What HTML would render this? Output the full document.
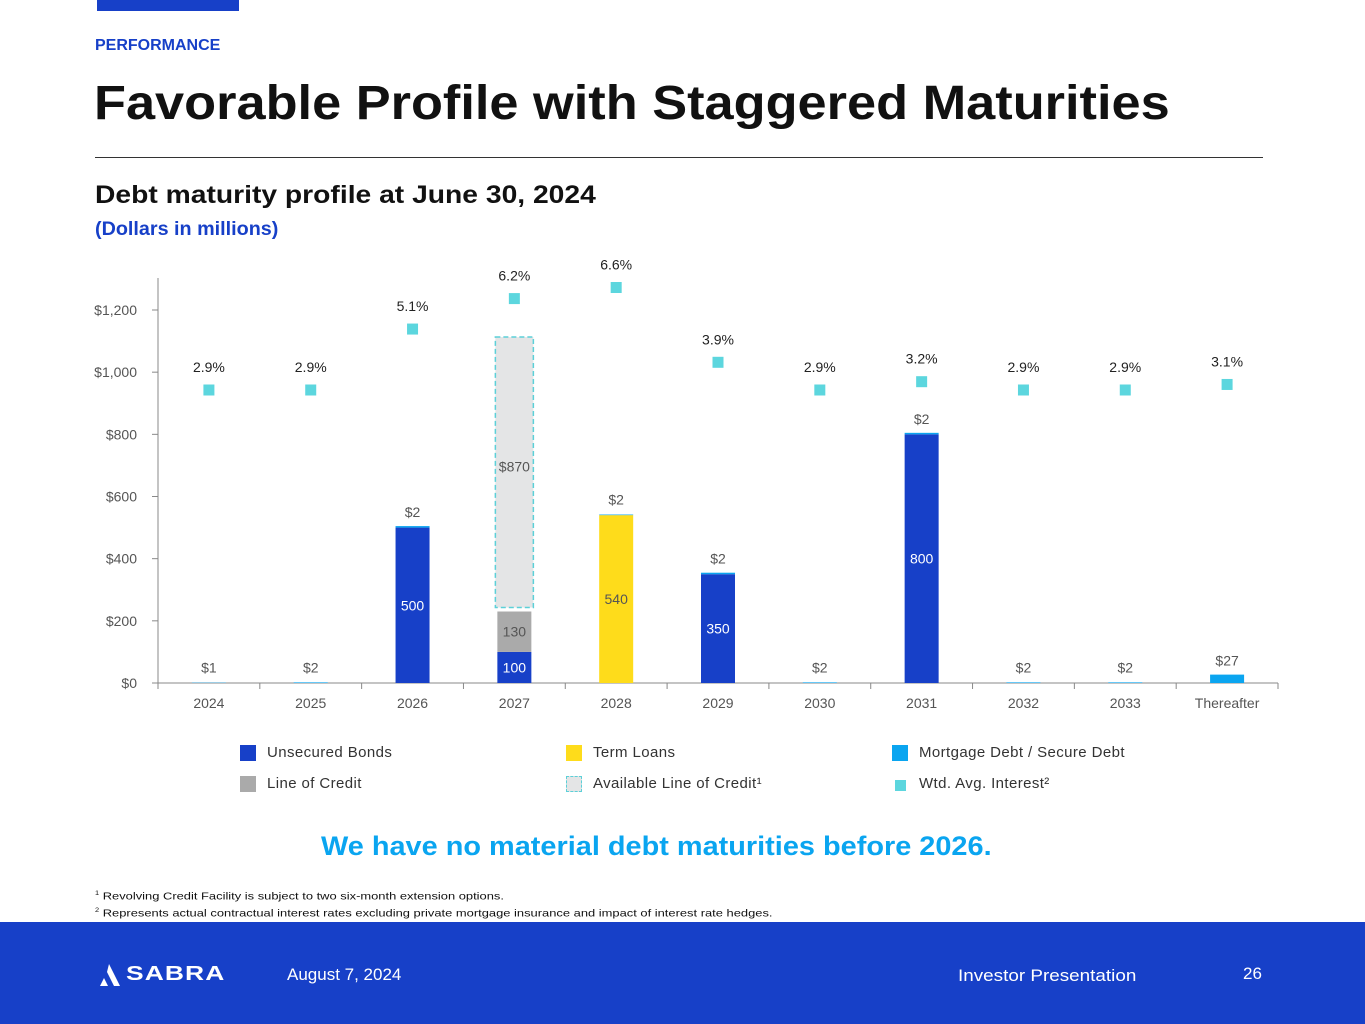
<!DOCTYPE html>
<html><head><meta charset="utf-8">
<style>
*{margin:0;padding:0;box-sizing:border-box}
body{width:1365px;height:1024px;background:#fff;font-family:"Liberation Sans",sans-serif;position:relative;overflow:hidden;color:#111}
.abs{position:absolute}
.sx{transform-origin:0 0;white-space:nowrap}
.lg{position:absolute;font-size:15px;color:#333;letter-spacing:0.4px}
.lg i{position:absolute;left:-27px;top:1px;width:16px;height:16px}
</style></head><body>
<div class="abs" style="left:97px;top:0;width:142px;height:11px;background:#1740c8"></div>
<div class="abs" style="left:95px;top:37px;font-size:16px;font-weight:bold;color:#1740c8">PERFORMANCE</div>
<div class="abs sx" style="left:94px;top:76px;font-size:48px;font-weight:bold;transform:scaleX(1.09)">Favorable Profile with Staggered Maturities</div>
<div class="abs" style="left:95px;top:157px;width:1168px;height:1px;background:#333"></div>
<div class="abs sx" style="left:95px;top:181px;font-size:25px;font-weight:bold;transform:scaleX(1.13)">Debt maturity profile at June 30, 2024</div>
<div class="abs sx" style="left:95px;top:219px;font-size:19px;font-weight:bold;color:#1740c8;transform:scaleX(1.04)">(Dollars in millions)</div>

<svg class="abs" style="left:0;top:0" width="1365" height="720" id="chart"></svg>

<div class="lg" style="left:267px;top:744px"><i style="background:#1740c8"></i>Unsecured Bonds</div>
<div class="lg" style="left:267px;top:775px"><i style="background:#aaa"></i>Line of Credit</div>
<div class="lg" style="left:593px;top:744px"><i style="background:#fedc1b"></i>Term Loans</div>
<div class="lg" style="left:593px;top:775px"><i style="background:#e4e5e6;border:1.5px dashed #5cd0d8"></i>Available Line of Credit¹</div>
<div class="lg" style="left:919px;top:744px"><i style="background:#0aa5f0"></i>Mortgage Debt / Secure Debt</div>
<div class="lg" style="left:919px;top:775px"><i style="background:#5cd6de;width:11px;height:11px;left:-24px;top:5px"></i>Wtd. Avg. Interest²</div>

<div class="abs sx" style="left:321px;top:831px;font-size:27px;font-weight:bold;color:#0aa5f0;transform:scaleX(1.07)">We have no material debt maturities before 2026.</div>
<div class="abs sx" style="left:95px;top:887px;font-size:10.5px;line-height:14px;color:#111;transform:scaleX(1.23)"><sup style="font-size:6px">1</sup> Revolving Credit Facility is subject to two six-month extension options.<br><sup style="font-size:6px">2</sup> Represents actual contractual interest rates excluding private mortgage insurance and impact of interest rate hedges.</div>

<div class="abs" style="left:0;top:922px;width:1365px;height:102px;background:#1740c8;color:#fff">
 <svg class="abs" style="left:100px;top:42px" width="24" height="24"><path d="M9 0 L20 22 L14 22 L7 8Z M4 14 L8 22 L0 22Z" fill="#fff"/></svg>
 <div class="abs sx" style="left:126px;top:40px;font-size:24px;font-weight:bold;letter-spacing:1px;transform:scale(1.1,0.85)">SABRA</div>
 <div class="abs" style="left:287px;top:43px;font-size:17px">August 7, 2024</div>
 <div class="abs sx" style="left:958px;top:44px;font-size:17px;transform:scaleX(1.11)">Investor Presentation</div>
 <div class="abs" style="left:1243px;top:42px;font-size:17px">26</div>
</div>

<script>
const categories=["2024","2025","2026","2027","2028","2029","2030","2031","2032","2033","Thereafter"];
const unsecured=[0,0,500,100,0,350,0,800,0,0,0];
const lineOfCredit=[0,0,0,130,0,0,0,0,0,0,0];
const termLoans=[0,0,0,0,540,0,0,0,0,0,0];
const mortgage=[1,2,2,0,2,2,2,2,2,2,27];
const availableLOC=[0,0,0,870,0,0,0,0,0,0,0];
const interest=[2.9,2.9,5.1,6.2,6.6,3.9,2.9,3.2,2.9,2.9,3.1];
const yTicks=[0,200,400,600,800,1000,1200];
const yTickLabels=["$0","$200","$400","$600","$800","$1,000","$1,200"];

const svg=document.getElementById('chart');
const NS='http://www.w3.org/2000/svg';
const X0=158,X1=1278,Y0=683;
const bw=(X1-X0)/categories.length;
const xC=i=>X0+bw*(i+0.5);
const yV=v=>Y0-v*(373/1200);
const yR=r=>390-(r-2.9)*27.7;
function mk(tag,attrs,txt){const e=document.createElementNS(NS,tag);for(const k in attrs)e.setAttribute(k,attrs[k]);if(txt!==undefined)e.textContent=txt;svg.appendChild(e);return e;}
const T={'font-family':'Liberation Sans, sans-serif','font-size':14,'text-anchor':'middle'};

let el=mk('line',{x1:X0,y1:278,x2:X0,y2:Y0,stroke:'#888'});


el=mk('line',{x1:X0,y1:Y0,x2:X1,y2:Y0,stroke:'#888'});


yTicks.forEach((v,i)=>{
 mk('line',{x1:X0-6,y1:yV(v),x2:X0,y2:yV(v),stroke:'#888'});
 el=mk('text',Object.assign({},T,{x:137,y:yV(v)+5,'text-anchor':'end',fill:'#555'}),yTickLabels[i]);
 
 
});
for(let i=0;i<=categories.length;i++)mk('line',{x1:X0+bw*i,y1:Y0,x2:X0+bw*i,y2:Y0+6,stroke:'#888'});
const BW=34;
categories.forEach((c,i)=>{
 const x=xC(i);
 el=mk('text',Object.assign({},T,{x:x,y:708,fill:'#555'}),c);
 
 
 let base=0;
 const segs=[[unsecured[i],'#1740c8','#fff','bar-unsecured'],[lineOfCredit[i],'#aaaaaa','#555','bar-line-of-credit'],[termLoans[i],'#fedc1b','#555','bar-term-loans']];
 segs.forEach(s=>{
  if(s[0]>0){
   el=mk('rect',{x:x-BW/2,y:yV(base+s[0]),width:BW,height:yV(base)-yV(base+s[0]),fill:s[1]});
   
   
   mk('text',Object.assign({},T,{x:x,y:(yV(base)+yV(base+s[0]))/2+5,fill:s[2]}),String(s[0]));
   base+=s[0];
  }
 });
 if(availableLOC[i]>0){
  const top=yV(base+13+availableLOC[i]), bot=yV(base+13);
  el=mk('rect',{x:x-19,y:top,width:38,height:bot-top,fill:'#e4e5e6',stroke:'#5cd0d8','stroke-width':1.5,'stroke-dasharray':'5,3'});
  
  
  mk('text',Object.assign({},T,{x:x,y:(top+bot)/2-1,fill:'#555'}),'$'+availableLOC[i]);
 }
 if(mortgage[i]>0){
  let h=yV(base)-yV(base+mortgage[i]);
  if(base>0&&unsecured[i]>0)h=Math.max(h,1.5);
  el=mk('rect',{x:x-BW/2,y:yV(base)-h,width:BW,height:h,fill:'#0aa5f0'});
  
  
  el=mk('text',Object.assign({},T,{x:x,y:yV(base)-Math.max(h,1.5)-9,fill:'#555'}),'$'+mortgage[i]);
  
  
 }
 const ry=yR(interest[i]);
 el=mk('rect',{x:x-5.5,y:ry-5.5,width:11,height:11,fill:'#5cd6de'});
 
 
 el=mk('text',Object.assign({},T,{x:x,y:ry-18,fill:'#222'}),interest[i].toFixed(1)+'%');
 
 
});
</script>
</body></html>
